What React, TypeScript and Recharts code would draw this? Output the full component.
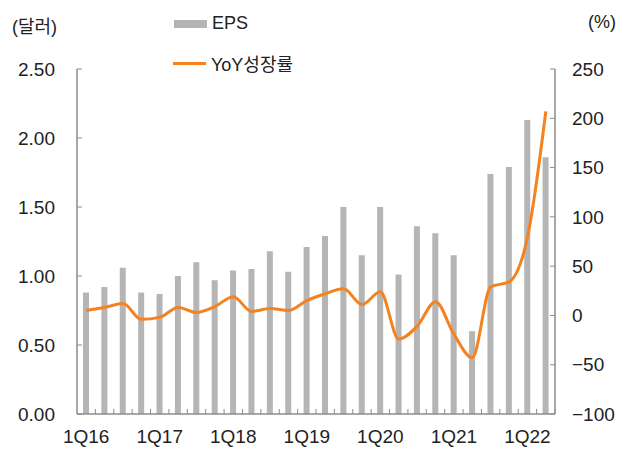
import {
  ComposedChart,
  Bar,
  Line,
  XAxis,
  YAxis,
  Legend,
} from 'recharts'

const quarters = [
  '1Q16', '2Q16', '3Q16', '4Q16',
  '1Q17', '2Q17', '3Q17', '4Q17',
  '1Q18', '2Q18', '3Q18', '4Q18',
  '1Q19', '2Q19', '3Q19', '4Q19',
  '1Q20', '2Q20', '3Q20', '4Q20',
  '1Q21', '2Q21', '3Q21', '4Q21',
  '1Q22', '2Q22',
]

const eps = [
  0.88, 0.92, 1.06, 0.88,
  0.87, 1.0, 1.1, 0.97,
  1.04, 1.05, 1.18, 1.03,
  1.21, 1.29, 1.5, 1.15,
  1.5, 1.01, 1.36, 1.31,
  1.15, 0.6, 1.74, 1.79,
  2.13, 1.86,
]

const yoy = [
  5, 8, 12, -4,
  -2, 8, 3, 9,
  19, 4, 7, 5,
  15, 22, 27, 11,
  24, -24, -11, 14,
  -19, -43, 29, 34,
  79, 207,
]

const leftTicks = [0, 0.5, 1.0, 1.5, 2.0, 2.5]
const rightTicks = [-100, -50, 0, 50, 100, 150, 200, 250]

const FONT = '"Liberation Sans", Arial, "Noto Sans CJK KR", sans-serif'
const AXIS = '#8c8c8c'
const BAR = '#b5b5b5'
const LINE = '#f58220'

const chartData = quarters.map((q, i) => ({ name: q, EPS: eps[i], YoY: yoy[i] }))

const XTick = (props: { x?: number; y?: number; payload?: { value: string } }) => {
  const { x = 0, y = 0, payload } = props
  const half = 478 / quarters.length / 2
  const label = payload?.value ?? ''
  return (
    <g>
      <line x1={x + half} x2={x + half} y1={y} y2={y - 5} stroke={AXIS} strokeWidth={1} />
      {label.startsWith('1Q') && (
        <text x={x} y={y + 29} textAnchor="middle" fill="#222" fontSize={19} fontFamily={FONT}>
          {label}
        </text>
      )}
    </g>
  )
}

const LegendBox = () => (
  <div style={{ fontFamily: FONT, fontSize: 18, color: '#222', whiteSpace: 'nowrap' }}>
    <div style={{ position: 'absolute', left: 174, top: 13, display: 'flex', alignItems: 'center', whiteSpace: 'nowrap' }}>
      <div style={{ width: 33, height: 8, background: BAR, marginRight: 5, flex: 'none' }} />
      <span>EPS</span>
    </div>
    <div style={{ position: 'absolute', left: 173, top: 50, display: 'flex', alignItems: 'center', whiteSpace: 'nowrap' }}>
      <div style={{ width: 33, height: 3, background: LINE, marginRight: 5, flex: 'none' }} />
      <span>YoY성장률</span>
    </div>
  </div>
)

export default function App() {
  return (
    <div style={{ position: 'absolute', left: 0, top: 0, width: 631, height: 453, background: '#fff' }}>
      <div style={{ position: 'absolute', left: 12, top: 12, fontFamily: FONT, fontSize: 18, color: '#222' }}>(달러)</div>
      <div style={{ position: 'absolute', left: 588, top: 12, fontFamily: FONT, fontSize: 18, color: '#222' }}>(%)</div>
      <ComposedChart
        width={631}
        height={453}
        data={chartData}
        margin={{ top: 69, right: 0, bottom: 0, left: 0 }}
        barCategoryGap={0}
      >
        <XAxis
          dataKey="name"
          xAxisId="x"
          height={39}
          interval={0}
          tick={<XTick />}
          tickLine={false}
          tickSize={0}
          tickMargin={0}
          axisLine={{ stroke: AXIS, strokeWidth: 1.5 }}
        />
        <YAxis
          yAxisId="left"
          orientation="left"
          width={77}
          domain={[0, 2.5]}
          ticks={leftTicks}
          interval={0}
          tickFormatter={(v: number) => v.toFixed(2)}
          tickSize={-5}
          tickMargin={27}
          tick={{ fill: '#222', fontSize: 19, fontFamily: FONT }}
          tickLine={{ stroke: AXIS }}
          axisLine={{ stroke: AXIS, strokeWidth: 1.5 }}
        />
        <YAxis
          yAxisId="right"
          orientation="right"
          width={76}
          domain={[-100, 250]}
          ticks={rightTicks}
          interval={0}
          tickFormatter={(v: number) => (v < 0 ? `\u2212${Math.abs(v)}` : `${v}`)}
          tickSize={-5}
          tickMargin={22}
          tick={{ fill: '#222', fontSize: 19, fontFamily: FONT, textAnchor: 'start' }}
          tickLine={{ stroke: AXIS }}
          axisLine={{ stroke: AXIS, strokeWidth: 1.5 }}
        />
        <Legend content={<LegendBox />} wrapperStyle={{ position: 'absolute', left: 0, top: 0, width: 631, height: 0 }} />
        <Bar
          dataKey="EPS"
          name="EPS"
          xAxisId="x"
          yAxisId="left"
          fill={BAR}
          barSize={6}
          isAnimationActive={false}
        />
        <Line
          dataKey="YoY"
          name="YoY성장률"
          xAxisId="x"
          yAxisId="right"
          type="monotone"
          stroke={LINE}
          strokeWidth={3}
          dot={false}
          activeDot={false}
          isAnimationActive={false}
        />
      </ComposedChart>
    </div>
  )
}
